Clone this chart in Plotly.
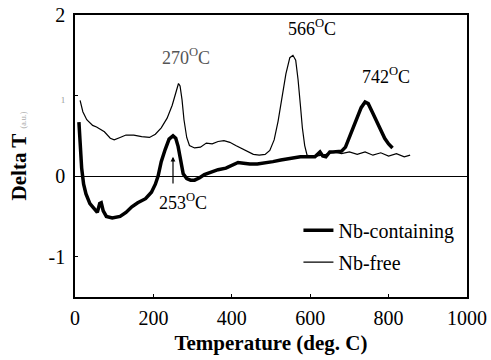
import plotly.graph_objects as go

# Nb-free (thin line)
free_x = [13, 20, 30, 45, 55, 64, 75, 90, 100, 115, 130, 150, 170, 190, 205, 220, 235, 248, 258, 264,
          268, 273, 278, 285, 292, 305, 320, 335, 350, 365, 380, 395, 410, 425, 440, 455, 470, 485, 497,
          508, 518, 528, 538, 548, 556, 563, 569, 575, 580, 586, 592, 605, 620, 640, 660, 680, 700, 720,
          740, 760, 780, 800, 820, 840, 855]
free_y = [0.94, 0.80, 0.70, 0.63, 0.61, 0.58, 0.55, 0.47, 0.45, 0.48, 0.51, 0.51, 0.49, 0.48, 0.52, 0.60,
          0.72, 0.88, 1.05, 1.15, 1.12, 0.95, 0.70, 0.48, 0.38, 0.35, 0.36, 0.41, 0.40, 0.43, 0.44, 0.42,
          0.38, 0.34, 0.30, 0.27, 0.26, 0.27, 0.32, 0.45, 0.68, 0.98, 1.27, 1.47, 1.50, 1.44, 1.20, 0.88,
          0.60, 0.38, 0.26, 0.24, 0.25, 0.27, 0.30, 0.28, 0.30, 0.27, 0.30, 0.26, 0.29, 0.25, 0.28, 0.24, 0.26]

# Nb-containing (thick line)
nb_x = [10, 13, 17, 22, 28, 38, 50, 57, 63, 67, 72, 80, 95, 115, 130, 145, 160, 180, 195, 205, 212, 220,
        230, 240, 250, 257, 263, 270, 276, 285, 295, 305, 318, 330, 345, 365, 385, 400, 416, 430, 446, 465,
        485, 505, 525, 550, 575, 600, 612, 625, 632, 640, 650, 658, 668, 680, 690, 700, 710, 720, 730, 740,
        748, 758, 768, 778, 790, 800, 810]
nb_y = [0.67, 0.40, 0.10, -0.10, -0.22, -0.34, -0.42, -0.45, -0.34, -0.33, -0.43, -0.50, -0.52, -0.50,
        -0.45, -0.38, -0.33, -0.28, -0.20, -0.10, 0.00, 0.18, 0.33, 0.46, 0.50, 0.47, 0.37, 0.15, 0.03,
        -0.03, -0.05, -0.05, -0.02, 0.02, 0.05, 0.08, 0.10, 0.13, 0.17, 0.16, 0.15, 0.15, 0.16, 0.18, 0.20,
        0.22, 0.24, 0.24, 0.24, 0.30, 0.25, 0.24, 0.30, 0.30, 0.30, 0.31, 0.36, 0.48, 0.60, 0.73, 0.85,
        0.92, 0.90, 0.80, 0.70, 0.58, 0.47, 0.40, 0.35]

x_ticks = [0, 200, 400, 600, 800, 1000]
y_ticks = [-1, 0, 1, 2]
y_ticktext = ["-1", "0", "<span style='font-size:9px;color:#999'>1</span>", "2"]

peak_labels = ["270<sup>O</sup>C", "566<sup>O</sup>C", "742<sup>O</sup>C", "253<sup>O</sup>C"]
peak_x = [282, 605, 793, 276]
peak_y = [1.48, 1.84, 1.25, -0.32]

SERIF = "Liberation Serif"

fig = go.Figure()
fig.add_trace(go.Scatter(x=nb_x, y=nb_y, mode="lines", name="Nb-containing",
                         line=dict(color="black", width=3.5), legendgroup="a"))
fig.add_trace(go.Scatter(x=free_x, y=free_y, mode="lines", name="Nb-free",
                         line=dict(color="black", width=1.2), legendgroup="b"))

for t, xx, yy in zip(peak_labels, peak_x, peak_y):
    col = "#555" if t.startswith("270") else "black"
    fig.add_annotation(x=xx, y=yy, text=t, showarrow=False,
                       font=dict(family=SERIF, size=18, color=col))

# arrow for 253 °C
fig.add_annotation(x=250, y=0.24, ax=250, ay=-0.11, axref="x", ayref="y",
                   text="", showarrow=True, arrowhead=2, arrowsize=0.8, arrowwidth=1.2,
                   arrowcolor="black")

fig.update_layout(
    width=491, height=360,
    margin=dict(l=75, r=24, t=15, b=63),
    paper_bgcolor="white", plot_bgcolor="white",
    font=dict(family=SERIF, size=18, color="black"),
    showlegend=True,
    legend=dict(x=0.57, y=0.306, xanchor="left", yanchor="top",
                bgcolor="rgba(0,0,0,0)", font=dict(family=SERIF, size=20),
                traceorder="grouped", tracegroupgap=3, itemwidth=30),
    xaxis=dict(range=[0, 1000], tickvals=x_ticks, showline=True, mirror=True, automargin=False,
               linecolor="black", linewidth=1.5, showgrid=False, zeroline=False,
               ticks="inside", ticklen=3, tickcolor="black", ticklabelstandoff=2,
               tickfont=dict(family=SERIF, size=20),
               title=dict(text="<b>Temperature (deg. C)</b>", font=dict(family=SERIF, size=21),
                          standoff=8)),
    yaxis=dict(range=[-1.5, 2], tickvals=y_ticks, ticktext=y_ticktext, showline=True, mirror=True,
               automargin=False,
               linecolor="black", linewidth=1.5, showgrid=False,
               zeroline=True, zerolinecolor="black", zerolinewidth=1,
               ticks="inside", ticklen=3, tickcolor="black", ticklabelstandoff=4,
               tickfont=dict(family=SERIF, size=20),
               title=dict(text="<b>Delta T</b> <span style='font-size:8px;color:#aaa'>(a.u.)</span>",
                          font=dict(family=SERIF, size=21), standoff=16)),
)

fig.write_html("out.html")
